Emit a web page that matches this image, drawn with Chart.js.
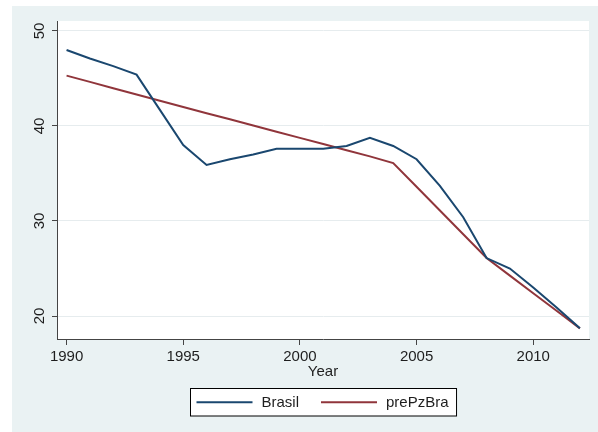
<!DOCTYPE html>
<html><head><meta charset="utf-8">
<script src="https://cdn.jsdelivr.net/npm/chart.js@4.4.1/dist/chart.umd.min.js"></script>
<style>html,body{margin:0;padding:0;background:#fff}#wrap{width:598px;height:432px}</style>
</head><body><div id="wrap"><canvas id="c" width="598" height="432"></canvas></div>
<script>
const years = [1990,1991,1992,1993,1994,1995,1996,1997,1998,1999,2000,2001,2002,2003,2004,2005,2006,2007,2008,2009,2010,2011,2012];
const brasil = [48.0,47.1,46.3,45.4,41.7,38.0,35.9,36.5,37.0,37.6,37.6,37.6,37.9,38.75,37.9,36.5,33.7,30.4,26.1,25.0,23.0,20.9,18.7];
const prePzBra = [45.3,44.64,43.98,43.32,42.66,42.0,41.35,40.7,40.05,39.4,38.75,38.1,37.45,36.8,36.1,33.6,31.1,28.6,26.1,24.25,22.4,20.55,18.7];
const xTicks = [1990,1995,2000,2005,2010];
const yTicks = [20,30,40,50];
const seriesNames = ['Brasil','prePzBra'];
const seriesColors = ['#1a476f','#90353b'];
const xTitle = 'Year';
const FONT = '"Liberation Sans", Arial, sans-serif';
const FS = 15;

const bgPlugin = {
  id: 'bg',
  beforeDraw(chart) {
    const ctx = chart.ctx, a = chart.chartArea;
    ctx.save();
    ctx.fillStyle = '#ffffff';
    ctx.fillRect(0, 0, chart.width, chart.height);
    ctx.fillStyle = '#eaf2f3';
    ctx.fillRect(12, 6, chart.width - 12, chart.height - 6);
    ctx.fillStyle = '#ffffff';
    ctx.fillRect(a.left, a.top, a.right - a.left, a.bottom - a.top);
    ctx.restore();
  }
};

const yLabelPlugin = {
  id: 'ylabels',
  afterDraw(chart) {
    const ctx = chart.ctx, s = chart.scales.y;
    ctx.save();
    ctx.font = FS + 'px ' + FONT;
    ctx.fillStyle = '#1e1e1e';
    ctx.textAlign = 'center';
    ctx.textBaseline = 'middle';
    s.ticks.forEach(t => {
      const py = s.getPixelForValue(t.value);
      ctx.save();
      ctx.translate(39.5, py);
      ctx.rotate(-Math.PI / 2);
      ctx.fillText(String(t.value), 0, 0);
      ctx.restore();
    });
    ctx.restore();
  }
};

const legendPlugin = {
  id: 'boxlegend',
  afterDraw(chart) {
    const ctx = chart.ctx, a = chart.chartArea;
    ctx.save();
    ctx.font = FS + 'px ' + FONT;
    const sample = 56, gapS = 9, gapItem = 22, padL = 6, padR = 8;
    const widths = chart.data.datasets.map(d => ctx.measureText(d.label).width);
    let total = padL + padR;
    widths.forEach((w, i) => { total += sample + gapS + w + (i > 0 ? gapItem : 0); });
    const cx = (a.left + a.right) / 2;
    const left = Math.round(cx - total / 2) + 0.5;
    const top = 388.5, h = 27.5;
    ctx.fillStyle = '#ffffff';
    ctx.fillRect(left, top, total, h);
    ctx.strokeStyle = '#000';
    ctx.lineWidth = 1;
    ctx.strokeRect(left, top, total, h);
    let x = left + padL;
    const cy = top + h / 2;
    chart.data.datasets.forEach((d, i) => {
      if (i > 0) x += gapItem;
      ctx.strokeStyle = d.borderColor;
      ctx.lineWidth = 2;
      ctx.beginPath();
      ctx.moveTo(x, cy);
      ctx.lineTo(x + sample, cy);
      ctx.stroke();
      x += sample + gapS;
      ctx.fillStyle = '#1e1e1e';
      ctx.textAlign = 'left';
      ctx.textBaseline = 'middle';
      ctx.fillText(d.label, x, cy + 0.5);
      x += widths[i];
    });
    ctx.restore();
  }
};

const seriesValues = [brasil, prePzBra];
const datasets = seriesValues.map((vals, i) => ({
  label: seriesNames[i],
  data: years.map((yr, k) => ({x: yr, y: vals[k]})),
  borderColor: seriesColors[i],
  backgroundColor: seriesColors[i],
  borderWidth: 2,
  pointRadius: 0,
  tension: 0,
  fill: false
}));

new Chart(document.getElementById('c'), {
  type: 'line',
  data: { datasets },
  options: {
    responsive: false,
    animation: false,
    devicePixelRatio: 1,
    layout: { padding: { left: 0, right: 9, top: 21, bottom: 51 } },
    plugins: { legend: { display: false }, tooltip: { enabled: false } },
    scales: {
      x: {
        type: 'linear', min: 1989.59, max: 2012.39,
        afterBuildTicks: s => { s.ticks = xTicks.map(v => ({ value: v })); },
        ticks: { font: { family: FONT, size: FS }, color: '#1e1e1e', padding: 3, maxRotation: 0, minRotation: 0, autoSkip: false, callback: v => String(v) },
        grid: { drawOnChartArea: false, tickLength: 6, tickColor: '#444', color: '#444' },
        border: { color: '#444', width: 1 },
        title: { display: true, text: xTitle, font: { family: FONT, size: FS }, color: '#1e1e1e', padding: { top: 0, bottom: 0 } },
        afterFit: s => { s.height = 42; }
      },
      y: {
        type: 'linear', min: 17.58, max: 51.05,
        afterBuildTicks: s => { s.ticks = yTicks.map(v => ({ value: v })); },
        ticks: { display: false },
        grid: { color: '#e6ecee', tickColor: '#444', tickLength: 5, lineWidth: 1 },
        border: { color: '#444', width: 1 },
        afterFit: s => { s.width = 57; }
      }
    }
  },
  plugins: [bgPlugin, yLabelPlugin, legendPlugin]
});
</script>
</body></html>
